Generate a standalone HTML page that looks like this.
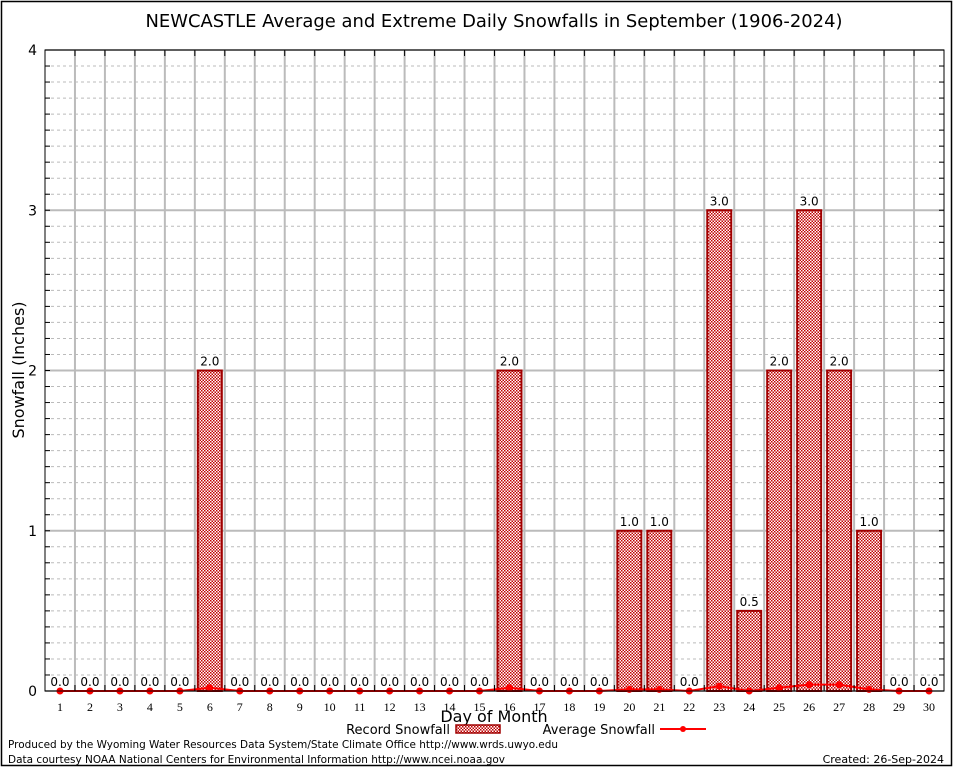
<!DOCTYPE html>
<html><head><meta charset="utf-8"><style>
body{margin:0;background:#fff;}
svg{display:block;font-family:"DejaVu Sans","Liberation Sans",sans-serif;}
</style></head><body>
<svg id="c" width="954" height="768" xmlns="http://www.w3.org/2000/svg">
<defs>
<pattern id="chk" width="3" height="3" patternUnits="userSpaceOnUse">
<rect width="3" height="3" fill="#fff"/><rect width="1.5" height="1.5" fill="#c00000"/><rect x="1.5" y="1.5" width="1.5" height="1.5" fill="#c00000"/>
</pattern>
</defs>
<rect x="1.5" y="1.5" width="950" height="764" fill="#fff" stroke="#000" stroke-width="1.5"/>
<text x="494" y="27" font-size="18" text-anchor="middle" textLength="697" lengthAdjust="spacingAndGlyphs">NEWCASTLE Average and Extreme Daily Snowfalls in September (1906-2024)</text>
<g id="grid"></g>
<g id="bars"></g>
<g id="avg"></g>
<rect x="45" y="50" width="899" height="641" fill="none" stroke="#000" stroke-width="1"/>
<g id="axes"></g>
<text transform="translate(24,370) rotate(-90)" font-size="16" text-anchor="middle">Snowfall (Inches)</text>
<text x="494" y="722" font-size="16" text-anchor="middle">Day of Month</text>
<g>
<text x="450" y="734" font-size="13" text-anchor="end">Record Snowfall</text>
<rect x="456" y="725" width="44" height="8" fill="url(#chk)" stroke="#a00000" stroke-width="1.5"/>
</g>
<g>
<text x="655" y="734" font-size="13" text-anchor="end">Average Snowfall</text>
<line x1="660" y1="729" x2="706" y2="729" stroke="#f00" stroke-width="2"/>
<circle cx="683" cy="729" r="3" fill="#f00"/>
</g>
<text x="8" y="748" font-size="11" textLength="550" lengthAdjust="spacingAndGlyphs">Produced by the Wyoming Water Resources Data System/State Climate Office http://www.wrds.uwyo.edu</text>
<text x="8" y="763" font-size="11" textLength="497" lengthAdjust="spacingAndGlyphs">Data courtesy NOAA National Centers for Environmental Information http://www.ncei.noaa.gov</text>
<text x="944" y="763" font-size="11" text-anchor="end">Created: 26-Sep-2024</text>
</svg>
<script>
const days=[1,2,3,4,5,6,7,8,9,10,11,12,13,14,15,16,17,18,19,20,21,22,23,24,25,26,27,28,29,30];
const recordSnow=[0,0,0,0,0,2,0,0,0,0,0,0,0,0,0,2,0,0,0,1,1,0,3,0.5,2,3,2,1,0,0];
const avgSnow=[0,0,0,0,0,0.02,0,0,0,0,0,0,0,0,0,0.02,0,0,0,0.01,0.01,0,0.03,0,0.02,0.04,0.04,0.01,0,0];
const yTicks=[0,1,2,3,4];
const NS="http://www.w3.org/2000/svg";
const L=45,R=944,T=50,B=691,yMax=4;
const bw=(R-L)/days.length;
function xS(d){return L+(d-0.5)*bw;}
function yS(v){return B-(v/yMax)*(B-T);}
function mk(tag,attrs,parent){const e=document.createElementNS(NS,tag);for(const k in attrs)e.setAttribute(k,attrs[k]);parent.appendChild(e);return e;}
const grid=document.getElementById('grid'),axes=document.getElementById('axes'),bars=document.getElementById('bars'),avg=document.getElementById('avg');
for(let k=0;k<=yMax*10;k++){const y=yS(k/10);
 const g=mk('line',{x1:L,x2:R,y1:y,y2:y,stroke:'#bbb','stroke-dasharray':'3,3','stroke-width':1},grid);
 
 
 const t1=mk('line',{x1:L,x2:L+5,y1:y,y2:y,stroke:'#000'},axes);
 
 
 const t2=mk('line',{x1:R-5,x2:R,y1:y,y2:y,stroke:'#000'},axes);
 
 
}
yTicks.forEach(v=>{const y=yS(v);
 const g=mk('line',{x1:L,x2:R,y1:y,y2:y,stroke:'#bbb','stroke-width':2},grid);
 
 
 const t=mk('text',{x:L-8,y:y+5,'font-size':14,'text-anchor':'end'},axes);t.textContent=v;
 
 
});
days.forEach((d,i)=>{const x=L+(i+1)*bw;
 if(i<days.length-1){const g=mk('line',{x1:x,x2:x,y1:T,y2:B,stroke:'#bbb','stroke-width':2},grid);
 
 
 const tk=mk('line',{x1:x,x2:x,y1:T,y2:T+6,stroke:'#000'},axes);
 
 
 const tk2=mk('line',{x1:x,x2:x,y1:B-6,y2:B,stroke:'#000'},axes);
 
 }
 const lab=mk('text',{x:xS(d),y:B+20,'font-size':12,'text-anchor':'middle','font-family':'Liberation Serif, serif'},axes);lab.textContent=d;
 
 
});
days.forEach((d,i)=>{const v=recordSnow[i];const cx=xS(d);
 if(v>0){const r=mk('rect',{x:cx-12,y:yS(v),width:24,height:B-yS(v),fill:'url(#chk)',stroke:'#a00000','stroke-width':2},bars);
 
 }
 const t=mk('text',{x:cx,y:yS(v)-5,'font-size':12,'text-anchor':'middle'},bars);t.textContent=v.toFixed(1);
 
 
});
const pts=days.map((d,i)=>xS(d)+','+yS(avgSnow[i])).join(' ');
const pl=mk('polyline',{points:pts,fill:'none',stroke:'#f00','stroke-width':2},avg);


days.forEach((d,i)=>{const c=mk('circle',{cx:xS(d),cy:yS(avgSnow[i]),r:3.5,fill:'#f00'},avg);
 
 });
</script>
</body></html>
